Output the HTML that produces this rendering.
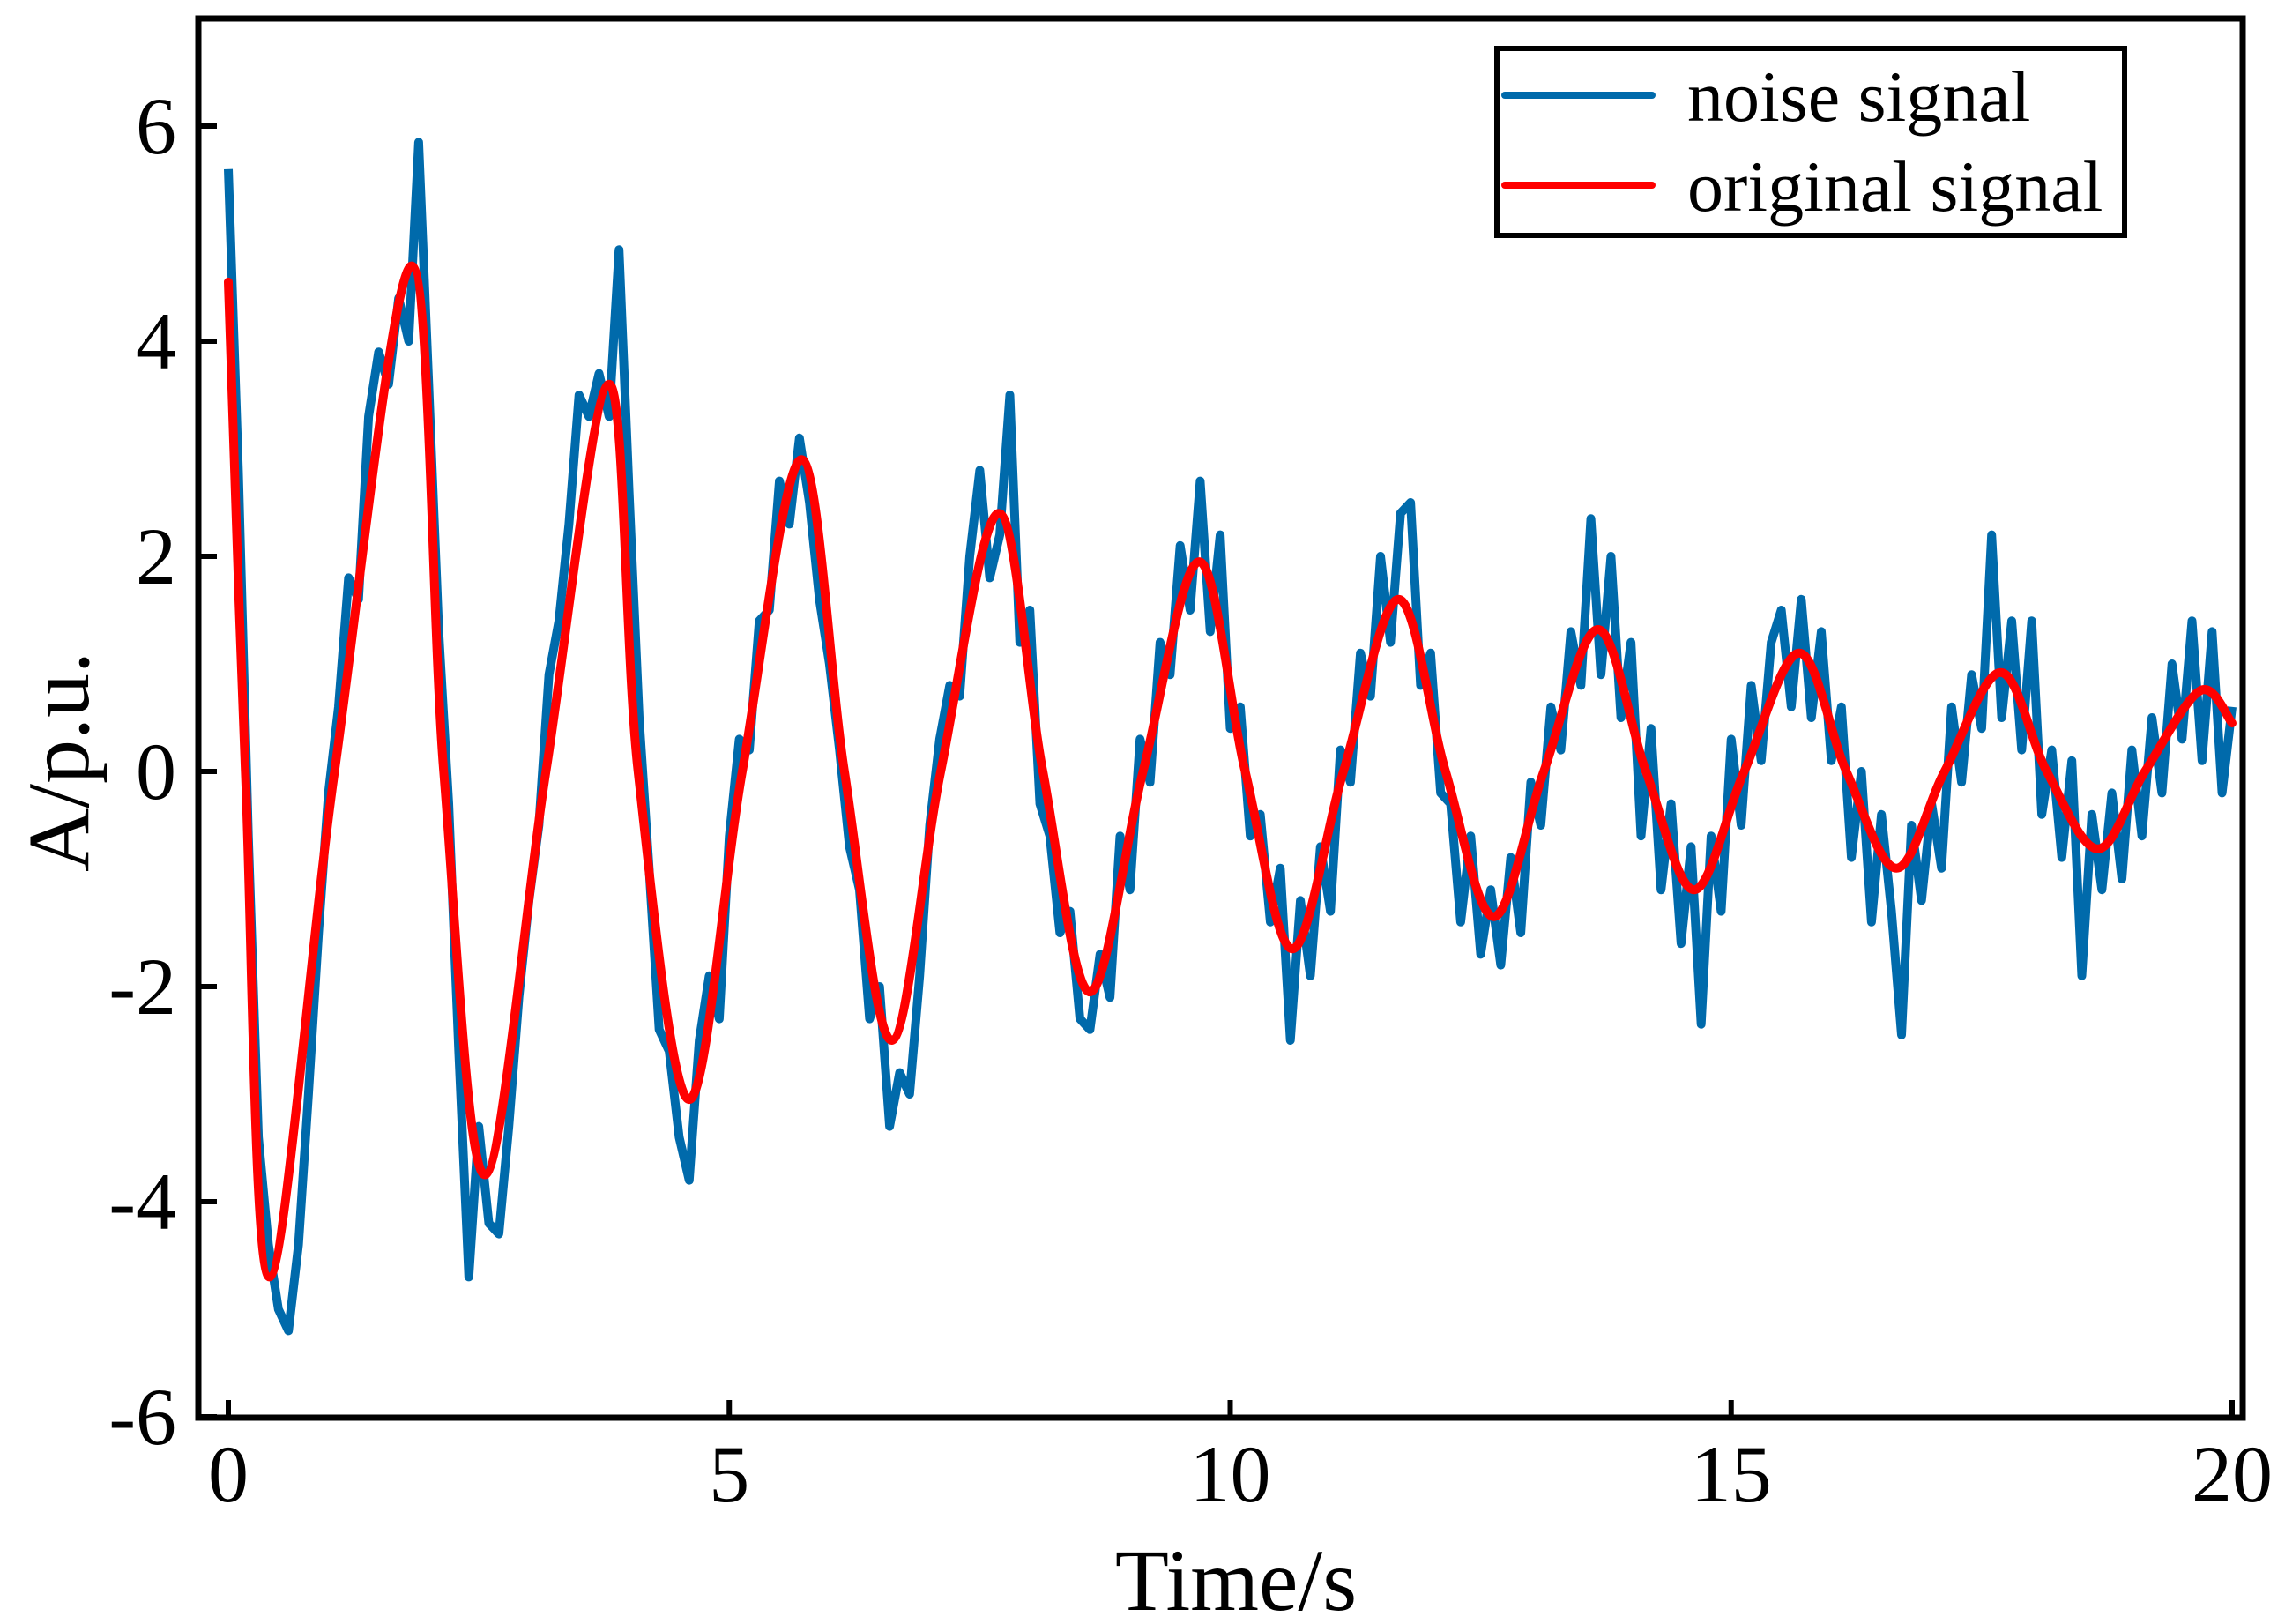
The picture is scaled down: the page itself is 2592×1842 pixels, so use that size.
<!DOCTYPE html>
<html><head><meta charset="utf-8"><style>
html,body{margin:0;padding:0;background:#fff;}
svg{display:block;}
text{font-family:"Liberation Serif","Times New Roman",serif;fill:#000;}
</style></head><body>
<svg id="chart" width="2592" height="1842" viewBox="0 0 2592 1842" xmlns="http://www.w3.org/2000/svg">
<defs><clipPath id="plotclip"><rect x="228" y="24" width="2313" height="1581"/></clipPath></defs>
<g id="axes"></g>
<g id="series" clip-path="url(#plotclip)"></g>
<rect x="225" y="21" width="2319" height="1587" fill="none" stroke="#000" stroke-width="7"/>
<text x="1402" y="1826" font-size="100" text-anchor="middle">Time/s</text>
<text x="100" y="864" font-size="100" text-anchor="middle" transform="rotate(-90 100 864)">A/p.u.</text>
<g>
<rect x="1698" y="55" width="712" height="212" fill="#fff" stroke="#000" stroke-width="6"/>
<line x1="1707" y1="108" x2="1874" y2="108" stroke="#006aab" stroke-width="8" stroke-linecap="round"/>
<text x="1914" y="137" font-size="82">noise signal</text>
<line x1="1707" y1="210" x2="1874" y2="210" stroke="#ff0000" stroke-width="8" stroke-linecap="round"/>
<text x="1914" y="239" font-size="82">original signal</text>
</g>
</svg>
<script>
const xTicks = [0, 5, 10, 15, 20];
const yTicks = [-6, -4, -2, 0, 2, 4, 6];
const xTickLabels = ["0", "5", "10", "15", "20"];
const yTickLabels = ["-6", "-4", "-2", "0", "2", "4", "6"];
const originalT = [0,0.17,0.41,1.06,1.83,2.15,2.56,3.17,3.8,4.09,4.6,5.13,5.72,6.15,6.62,7.11,7.69,8.13,8.6,9.13,9.69,10.15,10.62,11.13,11.68,12.15,12.63,13.13,13.67,14.15,14.63,15.13,15.68,16.15,16.65,17.13,17.69,18.15,18.66,19.13,19.68,20];
const originalV = [4.55,0,-4.7,0,4.7,0,-3.75,0,3.6,0,-3.05,0,2.9,0,-2.5,0,2.4,0,-2.05,0,1.95,0,-1.65,0,1.6,0,-1.35,0,1.32,0,-1.1,0,1.1,0,-0.9,0,0.92,0,-0.72,0,0.75,0.45];
const noiseStart = 0;
const noiseStep = 0.1;
const noiseV = [5.6,2.8,-0.6,-3.4,-4.4,-5.0,-5.2,-4.4,-3.0,-1.5,-0.2,
0.6,1.8,1.6,3.3,3.9,3.6,4.4,4.0,5.85,3.6,
1.3,-0.3,-2.6,-4.7,-3.3,-4.2,-4.3,-3.3,-2.1,-1.2,
-0.5,0.9,1.4,2.3,3.5,3.3,3.7,3.3,4.85,2.6,
0.5,-0.9,-2.4,-2.6,-3.4,-3.8,-2.5,-1.9,-2.3,-0.6,
0.3,0.2,1.4,1.5,2.7,2.3,3.1,2.5,1.6,1.0,
0.2,-0.7,-1.1,-2.3,-2.0,-3.3,-2.8,-3.0,-1.9,-0.5,
0.3,0.8,0.7,2.0,2.8,1.8,2.2,3.5,1.2,1.5,
-0.3,-0.6,-1.5,-1.3,-2.3,-2.4,-1.7,-2.1,-0.6,-1.1,
0.3,-0.1,1.2,0.9,2.1,1.5,2.7,1.3,2.2,0.4,
0.6,-0.6,-0.4,-1.4,-0.9,-2.5,-1.2,-1.9,-0.7,-1.3,
0.2,-0.1,1.1,0.7,2.0,1.2,2.4,2.5,0.8,1.1,
-0.2,-0.3,-1.4,-0.6,-1.7,-1.1,-1.8,-0.8,-1.5,-0.1,
-0.5,0.6,0.2,1.3,0.8,2.35,0.9,2.0,0.5,1.2,
-0.6,0.4,-1.1,-0.3,-1.6,-0.7,-2.35,-0.6,-1.3,0.3,
-0.5,0.8,0.1,1.2,1.5,0.6,1.6,0.5,1.3,0.1,
0.6,-0.8,0.0,-1.4,-0.4,-1.3,-2.45,-0.5,-1.2,-0.3,
-0.9,0.6,-0.1,0.9,0.4,2.2,0.5,1.4,0.2,1.4,
-0.4,0.2,-0.8,0.1,-1.9,-0.4,-1.1,-0.2,-1.0,0.2,
-0.6,0.5,-0.2,1.0,0.3,1.4,0.1,1.3,-0.2,0.6];

const X0 = 259, XS = 113.65, Y6 = 143, YS = 122;
function xPos(t){ return X0 + t * XS; }
function yPos(v){ return Y6 + (6 - v) * YS; }
const NS = "http://www.w3.org/2000/svg";
const axes = document.getElementById('axes');
const series = document.getElementById('series');

xTicks.forEach(function(t, i){
  const tk = document.createElementNS(NS, 'line');
  
  
  tk.setAttribute('x1', xPos(t)); tk.setAttribute('x2', xPos(t));
  tk.setAttribute('y1', 1608); tk.setAttribute('y2', 1588);
  tk.setAttribute('stroke', '#000'); tk.setAttribute('stroke-width', 6);
  axes.appendChild(tk);
  const lb = document.createElementNS(NS, 'text');
  
  
  lb.setAttribute('x', xPos(t)); lb.setAttribute('y', 1703);
  lb.setAttribute('font-size', 92); lb.setAttribute('text-anchor', 'middle');
  lb.textContent = xTickLabels[i];
  axes.appendChild(lb);
});
yTicks.forEach(function(v, i){
  const tk = document.createElementNS(NS, 'line');
  
  
  tk.setAttribute('x1', 225); tk.setAttribute('x2', 246);
  tk.setAttribute('y1', yPos(v)); tk.setAttribute('y2', yPos(v));
  tk.setAttribute('stroke', '#000'); tk.setAttribute('stroke-width', 6);
  axes.appendChild(tk);
  const lb = document.createElementNS(NS, 'text');
  
  
  lb.setAttribute('x', 200); lb.setAttribute('y', yPos(v) + 31);
  lb.setAttribute('font-size', 92); lb.setAttribute('text-anchor', 'end');
  lb.textContent = yTickLabels[i];
  axes.appendChild(lb);
});

let dN = '';
noiseV.forEach(function(v, i){
  const t = noiseStart + i * noiseStep;
  dN += (i ? 'L' : 'M') + xPos(t).toFixed(1) + ' ' + yPos(v).toFixed(1);
});
const noisePath = document.createElementNS(NS, 'path');


noisePath.setAttribute('d', dN);
noisePath.setAttribute('fill', 'none');
noisePath.setAttribute('stroke', '#006aab');
noisePath.setAttribute('stroke-width', 10);
noisePath.setAttribute('stroke-linejoin', 'round');
series.appendChild(noisePath);

const P = originalT.map(function(t, i){ return [xPos(t), yPos(originalV[i])]; });
let dR = 'M' + P[0][0].toFixed(1) + ' ' + P[0][1].toFixed(1);
for (let i = 0; i < P.length - 1; i++) {
  const p0 = P[Math.max(0, i - 1)], p1 = P[i], p2 = P[i + 1], p3 = P[Math.min(P.length - 1, i + 2)];
  const c1x = p1[0] + (p2[0] - p0[0]) / 6, c1y = p1[1] + (p2[1] - p0[1]) / 6;
  const c2x = p2[0] - (p3[0] - p1[0]) / 6, c2y = p2[1] - (p3[1] - p1[1]) / 6;
  dR += 'C' + c1x.toFixed(1) + ' ' + c1y.toFixed(1) + ' ' + c2x.toFixed(1) + ' ' + c2y.toFixed(1) + ' ' + p2[0].toFixed(1) + ' ' + p2[1].toFixed(1);
}
const origPath = document.createElementNS(NS, 'path');


origPath.setAttribute('d', dR);
origPath.setAttribute('fill', 'none');
origPath.setAttribute('stroke', '#ff0000');
origPath.setAttribute('stroke-width', 10);
origPath.setAttribute('stroke-linejoin', 'round');
origPath.setAttribute('stroke-linecap', 'round');
series.appendChild(origPath);
</script>
</body></html>
